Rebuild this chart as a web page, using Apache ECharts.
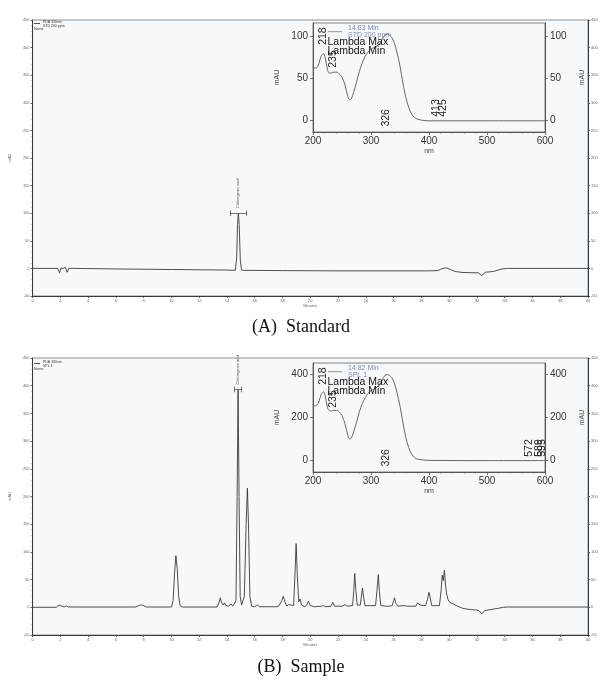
<!DOCTYPE html>
<html>
<head>
<meta charset="utf-8">
<script src="https://cdn.jsdelivr.net/npm/echarts@6/dist/echarts.min.js"></script>
<style>
  html, body { margin: 0; padding: 0; background: #ffffff; }
  #chart { width: 603px; height: 682px; }
</style>
</head>
<body>
<div id="chart"></div>
<script>
// PDA 330 nm chromatogram of the chlorogenic acid standard (minutes, mAU)
const stdChromatogram = [
  [0, 0], [1.8, 0], [1.95, -8], [2.05, 1], [2.2, 0], [2.35, 2], [2.5, -7], [2.6, 0],
  [3, 0], [6, -1], [10, -2], [14, -3], [14.6, -3.5], [14.7, 20], [14.76, 80],
  [14.82, 100], [14.88, 80], [14.96, 15], [15.05, -3], [15.2, -3.5], [18, -4],
  [22, -4.5], [28.5, -4.5], [29.2, -4], [29.4, -1.5], [29.7, 1], [29.9, 0],
  [30.1, -2], [30.4, -5.5], [31, -7.5], [32.1, -8], [32.35, -13], [32.6, -7],
  [33.2, -5.5], [33.8, -1], [34.2, 0], [40, 0]
];

// PDA 330 nm chromatogram of sample SPL 1 (minutes, mAU)
const splChromatogram = [
  [0, 0], [1.7, 0], [1.9, 4], [2.0, 5], [2.15, 1.5], [2.3, 1], [2.45, 2.5], [2.6, 0.5],
  [3, 0.5], [7.4, 0.5], [7.6, 2.5], [7.8, 4.5], [8.0, 3], [8.2, 0.5], [10.0, 0.5],
  [10.12, 12], [10.22, 60], [10.32, 93], [10.42, 70], [10.52, 20], [10.62, 3], [10.8, 0.5],
  [13.3, 0.5], [13.42, 8], [13.52, 17], [13.62, 8], [13.72, 4], [13.82, 8], [13.92, 3],
  [14.1, 2], [14.3, 6], [14.42, 2], [14.55, 1], [14.65, 12], [14.73, 200], [14.8, 393],
  [14.87, 200], [14.95, 20], [15.05, 4], [15.15, 3], [15.25, 20], [15.38, 150],
  [15.47, 215], [15.55, 150], [15.65, 20], [15.78, 2], [16.0, 1], [16.2, 4], [16.35, 1],
  [17.6, 1], [17.75, 3], [17.85, 2], [17.95, 12], [18.05, 20], [18.17, 10], [18.3, 2],
  [18.45, 5], [18.55, 2], [18.8, 3], [18.9, 60], [18.98, 115], [19.07, 55], [19.17, 10],
  [19.27, 15], [19.37, 4], [19.6, 1], [19.75, 4], [19.87, 11], [20.0, 3], [20.3, 1],
  [20.8, 2], [20.95, 3], [21.1, 1], [21.5, 2], [21.62, 9], [21.75, 2], [22.3, 2],
  [22.5, 5], [22.65, 2], [23.05, 3], [23.13, 30], [23.2, 61], [23.28, 30], [23.38, 4],
  [23.6, 4], [23.68, 20], [23.76, 35], [23.84, 18], [23.94, 3], [24.7, 3], [24.8, 30],
  [24.9, 59], [24.98, 28], [25.08, 3], [25.5, 2], [25.6, 4], [25.7, 2], [25.9, 3],
  [26.0, 12], [26.07, 17], [26.15, 8], [26.3, 2], [26.75, 3], [26.86, 6], [27.0, 2],
  [27.6, 2], [27.72, 8], [27.8, 11], [27.9, 4], [28.0, 2], [28.3, 3], [28.45, 15],
  [28.55, 27], [28.65, 15], [28.75, 3], [29.3, 3], [29.42, 30], [29.5, 58], [29.58, 48],
  [29.66, 67], [29.74, 40], [29.82, 24], [29.92, 14], [30.05, 9], [30.3, 6], [30.6, 2],
  [31.0, -2], [31.5, -4], [32.0, -5], [32.15, -6], [32.35, -12], [32.55, -6], [33.0, -4],
  [33.5, -2], [33.9, 0], [34.2, 0.5], [40, 0.5]
];

// UV spectra at the chlorogenic acid apex (nm, mAU)
const stdSpectrum = [
  [200, 64], [203, 62], [206, 62], [210, 67], [214, 76], [218, 79], [221, 74], [225, 60],
  [228, 56], [232, 56], [236, 57], [240, 57], [245, 55], [250, 51], [255, 42], [260, 28],
  [263, 24], [266, 25], [270, 33], [275, 45], [280, 58], [285, 68], [290, 76], [295, 81],
  [300, 84], [305, 86], [310, 88], [315, 91], [320, 97], [324, 101], [328, 102], [332, 101],
  [336, 98], [340, 92], [345, 80], [350, 64], [355, 44], [360, 27], [365, 15], [370, 7],
  [375, 3], [380, 1], [390, -0.5], [400, -1], [500, -1], [600, -1]
];
const splSpectrum = [
  [200, 259], [203, 252], [206, 254], [210, 270], [214, 305], [218, 318], [221, 298],
  [225, 243], [228, 230], [232, 228], [236, 231], [240, 231], [245, 224], [250, 206],
  [255, 170], [260, 115], [263, 98], [266, 101], [270, 130], [275, 175], [280, 225],
  [285, 262], [290, 290], [295, 310], [300, 322], [305, 330], [310, 338], [315, 350],
  [320, 375], [324, 393], [328, 397], [332, 393], [336, 382], [340, 360], [345, 312],
  [350, 250], [355, 175], [360, 105], [365, 58], [370, 27], [375, 11], [380, 4],
  [390, 0], [400, -2], [500, -3], [600, -3]
];

// Wavelengths flagged by the PDA software
const stdLambda = [218, 235, 326, 413, 425];
const splLambda = [218, 235, 326, 572, 589, 595];

// Peak identification
const peakName = 'Chlorogenic acid';
const stdPeak = [14.82, 100];
const splPeak = [14.8, 393];

// Axis tick values
const chromTicks = { min: -50, max: 450, step: 50 };
const timeTicks = { min: 0, max: 40, step: 2 };
const nmTicks = { min: 200, max: 600, step: 100 };
const stdSpecTicks = [0, 50, 100];
const splSpecTicks = [0, 200, 400];

// Legend / caption text
const panels = [
  { title: '(A)  Standard', sample: 'STD 200 ppm', apex: '14.83 Min' },
  { title: '(B)  Sample', sample: 'SPL 1', apex: '14.82 Min' }
];

const ink = '#3a3a3a';
const tickInk = '#666';
const fineFont = 'Liberation Sans';

// label placement for flagged wavelengths, as a fraction of the inset y-range
function lambdaPlacement(nm) {
  if (nm === 218) return 0.88;
  if (nm === 235) return 0.67;
  if (nm === 326) return 0.13;
  return 0.22;
}

function mainXAxis(gi) {
  return {
    gridIndex: gi, type: 'value', min: timeTicks.min, max: timeTicks.max, interval: timeTicks.step,
    axisLine: { show: true, onZero: false, lineStyle: { color: ink, width: 1 } },
    axisTick: { show: true, inside: false, length: 2, lineStyle: { color: ink, width: 0.8 } },
    minorTick: { show: true, splitNumber: 4, length: 1, lineStyle: { color: ink, width: 0.6 } },
    axisLabel: { fontSize: 4, color: tickInk, margin: 3, fontFamily: fineFont },
    splitLine: { show: false },
    name: 'Minutes', nameLocation: 'middle', nameGap: 8,
    nameTextStyle: { fontSize: 4, color: tickInk, fontFamily: fineFont }
  };
}
function mainYAxis(gi, pos) {
  return {
    gridIndex: gi, type: 'value', position: pos, min: chromTicks.min, max: chromTicks.max,
    interval: chromTicks.step,
    axisLine: { show: true, onZero: false, lineStyle: { color: ink, width: 1 } },
    axisTick: { show: true, length: 2, lineStyle: { color: ink, width: 0.8 } },
    minorTick: { show: true, splitNumber: 5, length: 1, lineStyle: { color: ink, width: 0.6 } },
    axisLabel: { fontSize: 4, color: tickInk, margin: 3, fontFamily: fineFont },
    splitLine: { show: false },
    name: pos === 'left' ? 'mAU' : '', nameLocation: 'middle', nameGap: 15,
    nameTextStyle: { fontSize: 4, color: tickInk, fontFamily: fineFont }
  };
}
function insetXAxis(gi) {
  return {
    gridIndex: gi, type: 'value', min: nmTicks.min, max: nmTicks.max, interval: nmTicks.step,
    axisLine: { show: true, onZero: false, lineStyle: { color: '#555', width: 1 } },
    axisTick: { show: true, length: 3, lineStyle: { color: '#555', width: 0.8 } },
    minorTick: { show: true, splitNumber: 5, length: 1.5, lineStyle: { color: '#555', width: 0.6 } },
    axisLabel: { fontSize: 10, color: '#333', margin: 4, fontFamily: fineFont },
    splitLine: { show: false },
    name: 'nm', nameLocation: 'middle', nameGap: 16,
    nameTextStyle: { fontSize: 7, color: '#444', fontFamily: fineFont }
  };
}
function insetYAxis(gi, pos, ticks, lo, hi) {
  return {
    gridIndex: gi, type: 'value', position: pos, min: lo, max: hi,
    axisLine: { show: true, onZero: false, lineStyle: { color: '#555', width: 1 } },
    axisTick: { show: true, length: 3, customValues: ticks, lineStyle: { color: '#555', width: 0.8 } },
    axisLabel: { fontSize: 10, color: '#333', margin: 5, customValues: ticks, fontFamily: fineFont },
    splitLine: { show: false },
    name: 'mAU', nameLocation: 'middle', nameGap: pos === 'left' ? 32 : 34,
    nameTextStyle: { fontSize: 7, color: '#444', fontFamily: fineFont }
  };
}

function chromSeries(xi, yi, data, peak) {
  const half = peak[1] > 200 ? 0.26 : 0.6;
  const tick = 5;
  return {
    type: 'line', xAxisIndex: xi, yAxisIndex: yi, data: data, symbol: 'none',
    lineStyle: { color: ink, width: 0.9 }, silent: true, z: 3,
    markLine: {
      silent: true, symbol: 'none', animation: false,
      lineStyle: { color: '#555', width: 0.8, type: 'solid' },
      label: { show: false },
      data: [
        [{ coord: [peak[0] - half, peak[1]] }, { coord: [peak[0] + half, peak[1]] }],
        [{ coord: [peak[0] - half, peak[1] - tick] }, { coord: [peak[0] - half, peak[1] + tick] }],
        [{ coord: [peak[0] + half, peak[1] - tick] }, { coord: [peak[0] + half, peak[1] + tick] }]
      ]
    },
    markPoint: {
      silent: true, animation: false, symbol: 'circle', symbolSize: 0,
      data: [{ coord: peak, name: peakName }],
      label: {
        show: true, formatter: '{b}', rotate: 90, position: 'top', distance: 5,
        align: 'left', verticalAlign: 'middle', fontSize: 4, color: '#555', fontFamily: fineFont
      }
    }
  };
}

function spectrumSeries(xi, yi, data, lambdas, lo, hi) {
  return {
    type: 'line', xAxisIndex: xi, yAxisIndex: yi, data: data, symbol: 'none', smooth: 0.3,
    lineStyle: { color: '#666', width: 1 }, silent: true, z: 3,
    markPoint: {
      silent: true, animation: false, symbol: 'circle', symbolSize: 0,
      data: lambdas.map(nm => ({
        coord: [nm, lo + (hi - lo) * lambdaPlacement(nm)], name: String(nm)
      })),
      label: {
        show: true, formatter: '{b}', rotate: 90, position: 'inside',
        fontSize: 10.5, color: '#222', fontFamily: fineFont
      }
    }
  };
}

const stdRange = [-14.3, 115.5];
const splRange = [-56, 451];

function panelGraphics(dy, p) {
  const legendInk = '#333';
  const insetInk = '#7f8cae';
  return [
    // chromatogram legend
    { type: 'line', shape: { x1: 34, y1: 23.5 + dy, x2: 40, y2: 23.5 + dy }, style: { stroke: '#222', lineWidth: 0.8 } },
    { type: 'text', x: 43, y: 22 + dy, style: { text: 'PDA 330nm', fontSize: 3.5, fill: legendInk, fontFamily: fineFont, verticalAlign: 'middle' } },
    { type: 'text', x: 43, y: 25.7 + dy, style: { text: p.sample, fontSize: 3.5, fill: legendInk, fontFamily: fineFont, verticalAlign: 'middle' } },
    { type: 'text', x: 34, y: 29.5 + dy, style: { text: 'Name', fontSize: 3.5, fill: legendInk, fontFamily: fineFont, verticalAlign: 'middle' } },
    // spectrum legend
    { type: 'line', shape: { x1: 328, y1: 31.7 + dy, x2: 342, y2: 31.7 + dy }, style: { stroke: '#777', lineWidth: 0.8 }, z: 10 },
    { type: 'text', x: 348, y: 28.3 + dy, z: 10, style: { text: p.apex, fontSize: 7, fill: insetInk, fontFamily: fineFont, verticalAlign: 'middle' } },
    { type: 'text', x: 348, y: 35 + dy, z: 10, style: { text: p.sample, fontSize: 7, fill: insetInk, fontFamily: fineFont, verticalAlign: 'middle' } },
    { type: 'text', x: 327.5, y: 42.3 + dy, z: 10, style: { text: 'Lambda Max', fontSize: 10.5, fill: '#111', fontFamily: fineFont, verticalAlign: 'middle' } },
    { type: 'text', x: 327.5, y: 50.8 + dy, z: 10, style: { text: 'Lambda Min', fontSize: 10.5, fill: '#111', fontFamily: fineFont, verticalAlign: 'middle' } },
    // caption
    { type: 'text', x: 301, y: 327 + dy, style: { text: p.title, fontSize: 18, fill: '#111', fontFamily: 'Liberation Serif', align: 'center', verticalAlign: 'middle' } }
  ];
}

const option = {
  animation: false,
  backgroundColor: '#ffffff',
  grid: [
    { left: 27, right: 15, top: 20, height: 276, show: true, backgroundColor: '#f6f9fc', borderColor: '#777', borderWidth: 0.8 },
    { left: 313, width: 232, top: 23, height: 109, show: true, backgroundColor: 'rgba(255,255,255,0)', borderColor: '#666', borderWidth: 0.8 },
    { left: 27, right: 15, top: 358, height: 277, show: true, backgroundColor: '#f6f9fc', borderColor: '#777', borderWidth: 0.8 },
    { left: 313, width: 232, top: 363, height: 109, show: true, backgroundColor: 'rgba(255,255,255,0)', borderColor: '#666', borderWidth: 0.8 }
  ],
  xAxis: [mainXAxis(0), insetXAxis(1), mainXAxis(2), insetXAxis(3)],
  yAxis: [
    mainYAxis(0, 'left'), mainYAxis(0, 'right'),
    insetYAxis(1, 'left', stdSpecTicks, stdRange[0], stdRange[1]),
    insetYAxis(1, 'right', stdSpecTicks, stdRange[0], stdRange[1]),
    mainYAxis(2, 'left'), mainYAxis(2, 'right'),
    insetYAxis(3, 'left', splSpecTicks, splRange[0], splRange[1]),
    insetYAxis(3, 'right', splSpecTicks, splRange[0], splRange[1])
  ],
  series: [
    chromSeries(0, 0, stdChromatogram, stdPeak),
    spectrumSeries(1, 2, stdSpectrum, stdLambda, stdRange[0], stdRange[1]),
    chromSeries(2, 4, splChromatogram, splPeak),
    spectrumSeries(3, 6, splSpectrum, splLambda, splRange[0], splRange[1])
  ],
  graphic: { elements: panelGraphics(0, panels[0]).concat(panelGraphics(340, panels[1])) }
};

const chart = echarts.init(document.getElementById('chart'), null, { renderer: 'canvas' });
chart.setOption(option);
</script>
</body>
</html>
